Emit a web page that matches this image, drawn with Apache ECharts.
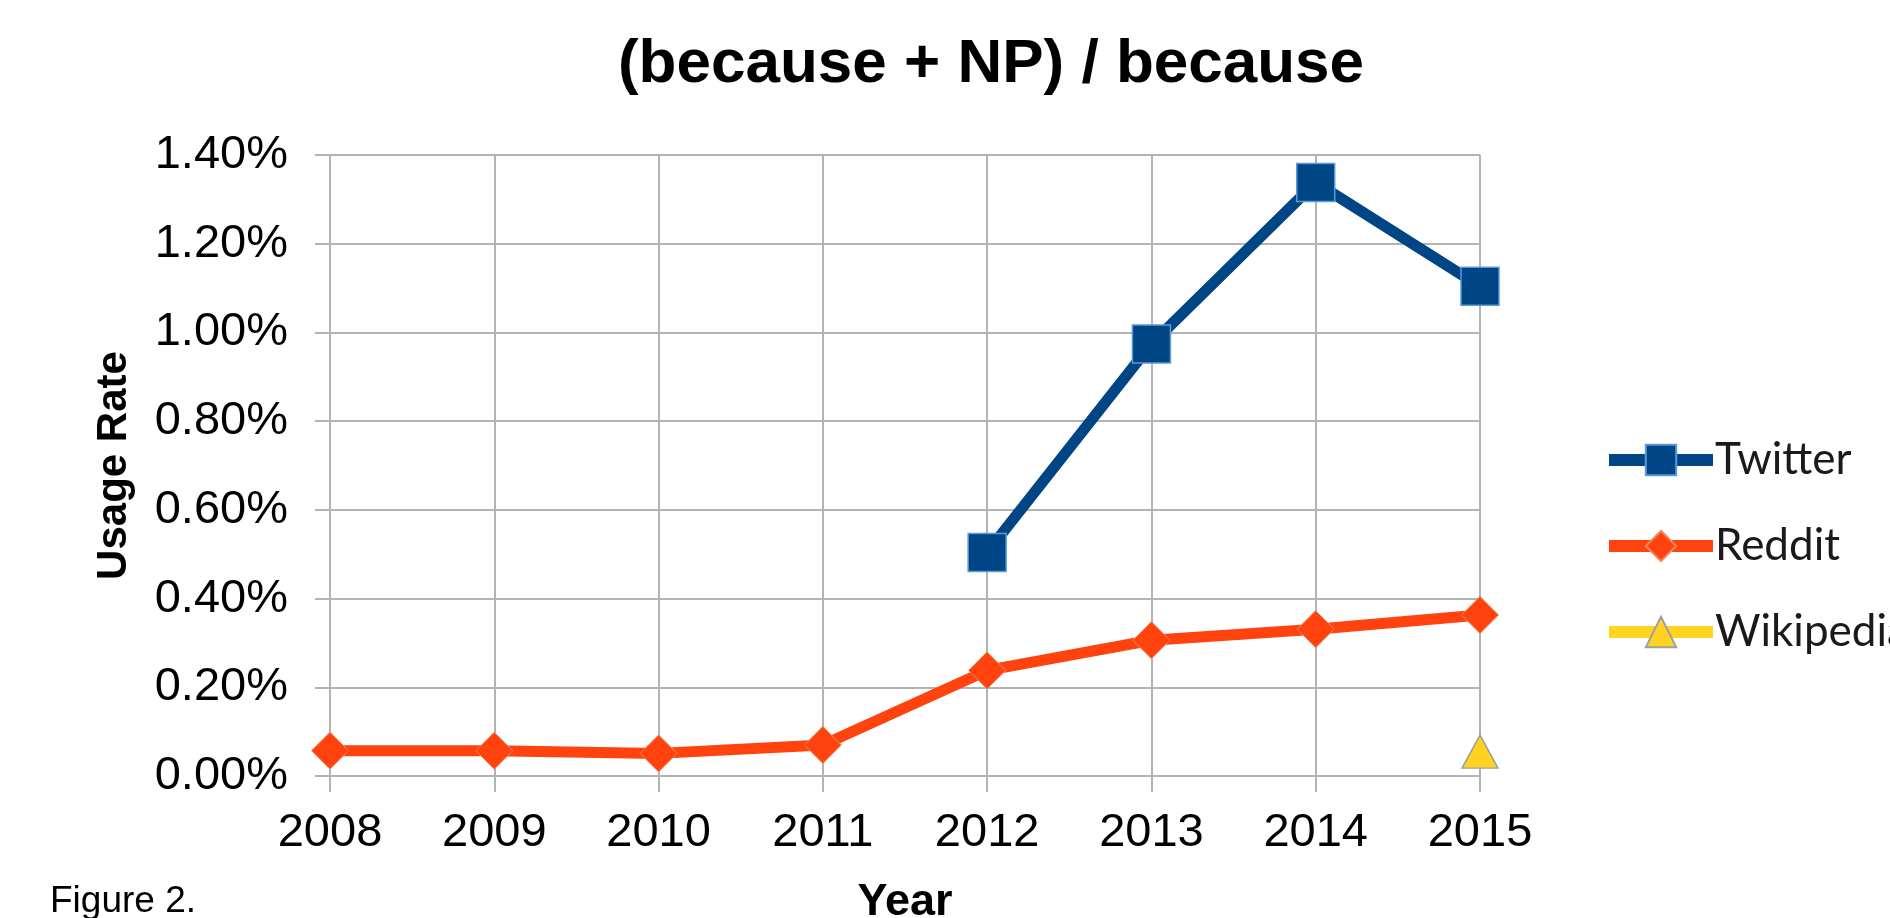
<!DOCTYPE html>
<html>
<head>
<meta charset="utf-8">
<title>(because + NP) / because</title>
<script src="https://cdn.jsdelivr.net/npm/echarts@6/dist/echarts.min.js"></script>
<style>
    html, body { margin: 0; padding: 0; background: #fff; }
    #chartBox { width: 1890px; height: 918px; }
</style>
</head>
<body>
<div id="chartBox"></div>
<script>
// 年份
var years = ['2008', '2009', '2010', '2011', '2012', '2013', '2014', '2015'];
// 各来源的使用率 (%)
var twitter = [null, null, null, null, 0.504, 0.974, 1.338, 1.104];
var reddit = [0.057, 0.057, 0.051, 0.070, 0.238, 0.306, 0.331, 0.363];
var wikipedia = [null, null, null, null, null, null, null, 0.055];
// 纵轴刻度
var yTicks = [0, 0.2, 0.4, 0.6, 0.8, 1.0, 1.2, 1.4];

var myChart = echarts.init(document.getElementById('chartBox'));
var gridColor = '#b3b3b3';

var option = {
    backgroundColor: '#fff',
    animation: false,
    title: {
        text: '(because + NP) / because',
        left: 986,
        top: 29,
        textAlign: 'center',
        textStyle: {
            fontFamily: 'Liberation Sans',
            fontSize: 62,
            fontWeight: 'bold',
            color: '#000'
        }
    },
    legend: {
        orient: 'vertical',
        left: 1603,
        top: 438,
        padding: 0,
        itemWidth: 104,
        itemHeight: 38,
        itemGap: 42,
        textStyle: {
            fontFamily: 'Lato',
            fontSize: 44,
            color: '#1a1a1a',
            padding: [0, 0, 0, -3]
        },
        lineStyle: { width: 12 },
        data: ['Twitter', 'Reddit', 'Wikipedia']
    },
    graphic: [{
        type: 'text',
        left: 50,
        top: 883,
        style: {
            text: 'Figure 2.',
            fontFamily: 'Liberation Sans',
            fontSize: 37,
            fill: '#000'
        }
    }],
    grid: {
        left: 330,
        right: 410,
        top: 155,
        bottom: 142,
        containLabel: false,
        outerBoundsMode: 'none'
    },
    xAxis: {
        type: 'category',
        data: years,
        boundaryGap: false,
        name: 'Year',
        nameLocation: 'middle',
        nameGap: 104,
        nameTextStyle: {
            fontFamily: 'Liberation Sans',
            fontSize: 45,
            fontWeight: 'bold',
            color: '#000'
        },
        axisLine: { lineStyle: { color: gridColor, width: 2 } },
        axisTick: { show: true, length: 16, lineStyle: { color: gridColor, width: 2 } },
        axisLabel: {
            margin: 34,
            fontFamily: 'Liberation Sans',
            fontSize: 47,
            color: '#000'
        },
        splitLine: { show: true, lineStyle: { color: gridColor, width: 2 } }
    },
    yAxis: {
        type: 'value',
        min: yTicks[0],
        max: yTicks[yTicks.length - 1],
        interval: 0.2,
        name: 'Usage Rate',
        nameLocation: 'middle',
        nameRotate: 90,
        nameGap: 195,
        nameTextStyle: {
            fontFamily: 'Liberation Sans',
            fontSize: 42,
            fontWeight: 'bold',
            color: '#000'
        },
        axisLine: { show: true, lineStyle: { color: gridColor, width: 2 } },
        axisTick: { show: true, length: 15, lineStyle: { color: gridColor, width: 2 } },
        axisLabel: {
            margin: 42,
            fontFamily: 'Liberation Sans',
            fontSize: 47,
            color: '#000',
            formatter: function (v) { return v.toFixed(2) + '%'; }
        },
        splitLine: { show: true, lineStyle: { color: gridColor, width: 2 } }
    },
    series: [
        {
            name: 'Twitter',
            type: 'line',
            data: twitter,
            symbol: 'rect',
            symbolSize: 38,
            lineStyle: { color: '#004586', width: 11 },
            itemStyle: { color: '#004586', borderColor: '#5b9bd5', borderWidth: 1.5 },
            z: 3
        },
        {
            name: 'Reddit',
            type: 'line',
            data: reddit,
            symbol: 'diamond',
            symbolSize: 37,
            lineStyle: { color: '#ff420e', width: 11 },
            itemStyle: { color: '#ff420e', borderColor: '#f08a5d', borderWidth: 1 },
            z: 2
        },
        {
            name: 'Wikipedia',
            type: 'line',
            data: wikipedia,
            symbol: 'triangle',
            symbolSize: [36, 33],
            lineStyle: { color: '#ffd320', width: 11 },
            itemStyle: { color: '#ffd320', borderColor: '#a0a0a0', borderWidth: 1.5 },
            z: 4
        }
    ]
};

myChart.setOption(option);
window.addEventListener('resize', function () {
    myChart.resize();
});
</script>
</body>
</html>
